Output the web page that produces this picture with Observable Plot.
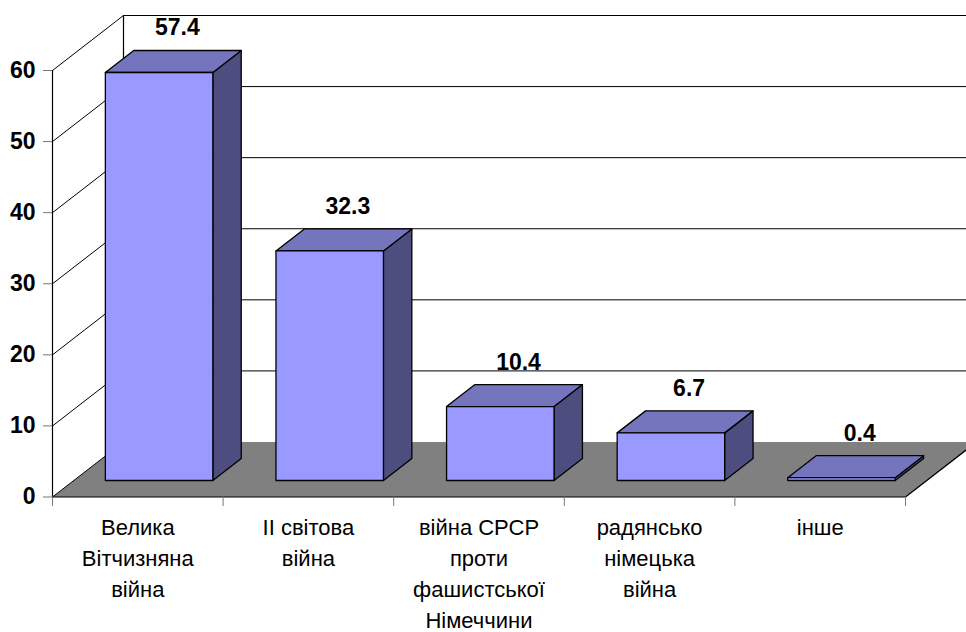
<!DOCTYPE html>
<html><head><meta charset="utf-8">
<script src="https://cdn.jsdelivr.net/npm/d3@7"></script>
<script src="https://cdn.jsdelivr.net/npm/@observablehq/plot@0.6"></script>
<style>body{margin:0;background:#fff;overflow:hidden}</style>
</head><body><div id="chart"></div>
<script>
const categories = ["Велика\nВітчизняна\nвійна", "II світова\nвійна", "війна СРСР\nпроти\nфашистської\nНімеччини", "радянсько\nнімецька\nвійна", "інше"];
const values = [57.4, 32.3, 10.4, 6.7, 0.4];
const yTicks = [0, 10, 20, 30, 40, 50, 60];
const xBoundaries = [0, 1, 2, 3, 4, 5];

const W = 966, H = 632, mL = 52, mR = 61, mT = 70, mB = 135.5;
const bandPx = (W - mL - mR) / categories.length;
const pxPerUnit = (H - mT - mB) / 60;
const DX = 71 / bandPx, DY = 55 / pxPerUnit;   // full floor depth in scale units
const P = (c, v, d) => ({x: c + d * DX, y: v + d * DY});
const poly = (id, pts) => pts.map(p => ({id, ...P(...p)}));

const floor = poly("floor", [[0,0,0],[5,0,0],[5,0,1],[0,0,1]]);
const gridLeft = yTicks.flatMap(v => poly("L" + v, [[0,v,0],[0,v,1]]));
const gridBack = yTicks.filter(v => v > 0).flatMap(v => poly("B" + v, [[0,v,1],[5,v,1]]));
const edges = [
  poly("e1", [[0,0,1],[0,60,1]]),
  poly("e2", [[0,0,0],[0,60,0]]),
  poly("e3", [[0,0,0],[5,0,0]]),
  poly("e4", [[5,0,0],[5,0,1]])
].flat();

const BW = 0.63, D0 = 0.3, D1 = 0.7;
const fronts = [], tops = [], sides = [];
values.forEach((v, i) => {
  const x0 = i + 0.5 - BW / 2, x1 = i + 0.5 + BW / 2;
  fronts.push(...poly("f" + i, [[x0,0,D0],[x1,0,D0],[x1,v,D0],[x0,v,D0]]));
  tops.push(...poly("t" + i, [[x0,v,D0],[x1,v,D0],[x1,v,D1],[x0,v,D1]]));
  sides.push(...poly("s" + i, [[x1,0,D0],[x1,0,D1],[x1,v,D1],[x1,v,D0]]));
});

const face = (data, fill) => Plot.line(data, {x: "x", y: "y", z: "id", fill, stroke: "#000", strokeWidth: 1.3, curve: "linear-closed"});

const chart = Plot.plot({
  width: W, height: H,
  marginLeft: mL, marginRight: mR, marginTop: mT, marginBottom: mB,
  x: {domain: [0, 5], label: null},
  y: {domain: [0, 60], label: null},
  style: {fontFamily: "'Liberation Sans', Arial, sans-serif", background: "#fff", color: "#000", overflow: "hidden"},
  marks: [
    Plot.line(floor, {x: "x", y: "y", z: "id", fill: "#808080", stroke: "none", curve: "linear-closed"}),
    Plot.line(gridLeft, {x: "x", y: "y", z: "id", stroke: "#000", strokeWidth: 1}),
    Plot.line(gridBack, {x: "x", y: "y", z: "id", stroke: "#000", strokeWidth: 1}),
    Plot.line(edges, {x: "x", y: "y", z: "id", stroke: "#000", strokeWidth: 1.2}),
    face(sides, "#4D4D80"),
    face(tops, "#7575BD"),
    face(fronts, "#9999FF"),
    Plot.text(values, {x: (d, i) => i + 0.5 + 0.5 * DX, y: d => d + D1 * DY, text: d => d.toFixed(1),
      dx: 4, dy: -15, lineAnchor: "bottom", fontSize: 23, fontWeight: "bold", fill: "#000"}),
    Plot.text(categories, {x: (d, i) => i + 0.5, y: 0, text: d => d, lineAnchor: "top",
      dy: 16.5, fontSize: 22, lineHeight: 1.4, fill: "#000"}),
    Plot.axisY(yTicks, {tickSize: 9, tickPadding: 8, fontSize: 23, fontWeight: "bold", stroke: "#777", fill: "#000", label: null}),
    Plot.axisX(xBoundaries, {tickSize: 9.5, tickFormat: () => "", stroke: "#777", label: null})
  ]
});
document.getElementById("chart").append(chart);
</script>
</body></html>
